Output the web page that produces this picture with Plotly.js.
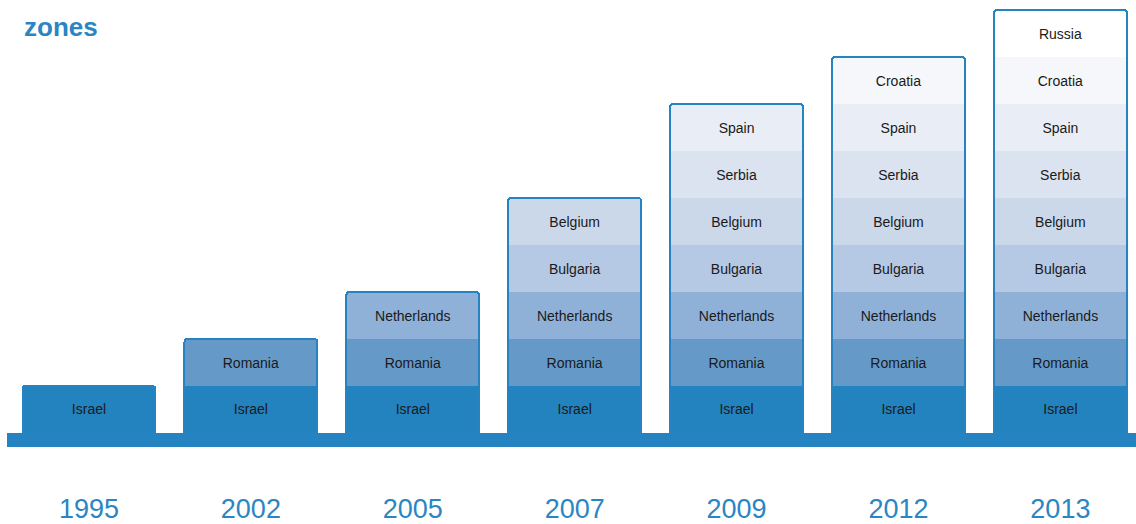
<!DOCTYPE html>
<html>
<head>
<meta charset="utf-8">
<script src="https://cdn.plot.ly/plotly-3.0.1.min.js"></script>
<style>html,body{margin:0;padding:0;background:#fff;}#chart{width:1136px;height:524px;}</style>
</head>
<body>
<div id="chart"></div>
<script>
const years = ['1995', '2002', '2005', '2007', '2009', '2012', '2013'];
const countries = ['Israel', 'Romania', 'Netherlands', 'Bulgaria', 'Belgium', 'Serbia', 'Spain', 'Croatia', 'Russia'];
const israel      = [1, 1, 1, 1, 1, 1, 1];
const romania     = [0, 1, 1, 1, 1, 1, 1];
const netherlands = [0, 0, 1, 1, 1, 1, 1];
const bulgaria    = [0, 0, 0, 1, 1, 1, 1];
const belgium     = [0, 0, 0, 1, 1, 1, 1];
const serbia      = [0, 0, 0, 0, 1, 1, 1];
const spain       = [0, 0, 0, 0, 1, 1, 1];
const croatia     = [0, 0, 0, 0, 0, 1, 1];
const russia      = [0, 0, 0, 0, 0, 0, 1];
const series = [israel, romania, netherlands, bulgaria, belgium, serbia, spain, croatia, russia];
const colors = ['#2383be', '#6599c8', '#8fb1d8', '#b6c9e4', '#cbd8ea', '#dbe3f0', '#e9eef6', '#f5f7fb', '#ffffff'];

const FONT = 'Liberation Sans, Arial, sans-serif';
const BLUE = '#2483c0';

const traces = series.map((vals, i) => ({
  type: 'bar',
  x: years,
  y: vals.map(v => v ? v : null),
  name: countries[i],
  text: vals.map(v => v ? countries[i] : ''),
  textposition: 'inside',
  insidetextanchor: 'middle',
  textangle: 0,
  constraintext: 'none',
  textfont: {family: FONT, size: 14, color: '#1a1a1a'},
  marker: {color: colors[i], line: {width: 0}},
  hoverinfo: 'skip',
  xaxis: 'x',
  yaxis: 'y'
}));

const totals = years.map((_, j) => series.reduce((s, arr) => s + arr[j], 0));
traces.push({
  type: 'bar',
  x: years,
  y: totals,
  marker: {color: 'rgba(0,0,0,0)', line: {width: 2, color: BLUE}, cornerradius: 3},
  hoverinfo: 'skip',
  xaxis: 'x2',
  yaxis: 'y'
});

const xRange = [-0.5, 6.467];
const layout = {
  width: 1136,
  height: 524,
  margin: {l: 8, r: 0, t: 0, b: 77},
  paper_bgcolor: '#fff',
  plot_bgcolor: '#fff',
  showlegend: false,
  barmode: 'stack',
  bargap: 0.18,
  title: {
    text: '<b>zones</b>',
    font: {family: FONT, size: 26, color: '#2a86c3'},
    x: 24 / 1136, xref: 'container', xanchor: 'left',
    y: 1 - 27 / 524, yref: 'container', yanchor: 'middle'
  },
  xaxis: {
    type: 'category',
    range: xRange,
    showgrid: false, zeroline: false, showline: false,
    ticks: '',
    ticklabelstandoff: 43,
    tickfont: {family: FONT, size: 27, color: '#2a86c3'},
    fixedrange: true
  },
  xaxis2: {
    type: 'category',
    overlaying: 'x',
    matches: 'x',
    range: xRange,
    showgrid: false, zeroline: false, showline: false,
    showticklabels: false, ticks: ''
  },
  yaxis: {
    range: [-0.298, 9.213],
    showgrid: false, zeroline: false, showline: false,
    showticklabels: false, ticks: '',
    fixedrange: true
  },
  shapes: [{
    type: 'rect', xref: 'paper', yref: 'y',
    x0: -1 / 1128, x1: 1, y0: -0.298, y1: 0,
    fillcolor: BLUE, line: {width: 0}, layer: 'above'
  }]
};

Plotly.newPlot('chart', traces, layout, {displayModeBar: false, staticPlot: true});
</script>
</body>
</html>
